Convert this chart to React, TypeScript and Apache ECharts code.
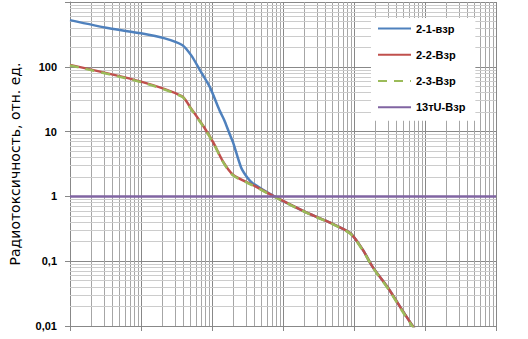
import React, { useEffect, useRef } from "react";
import * as echarts from "echarts";

// Time (arbitrary log scale, decades 1..1e6) and radiotoxicity values
const blueX = [1, 3.55, 10, 21.6, 38, 51, 67.6, 93, 127, 149, 175, 199, 257, 318, 374, 776, 2200, 4700, 8900, 13400, 18400, 31600, 47500, 65500, 76700];
const blueY = [525, 393, 329, 275, 217, 150, 89, 49, 21.5, 15, 9.5, 6.7, 2.8, 1.92, 1.6, 0.98, 0.555, 0.39, 0.27, 0.148, 0.081, 0.036, 0.0177, 0.0104, 0.008];
const redX = [1, 10, 38, 49, 77, 105, 144, 199, 374, 776, 2200, 4700, 8900, 13400, 18400, 31600, 47500, 65500, 76700];
const redY = [107, 59, 35, 24, 11.8, 6.7, 3.4, 2.14, 1.5, 0.98, 0.555, 0.39, 0.27, 0.148, 0.081, 0.036, 0.0177, 0.0104, 0.008];
const greenX = redX;
const greenY = [105, 58, 34.5, 23.5, 11.6, 6.6, 3.35, 2.1, 1.48, 0.97, 0.55, 0.385, 0.265, 0.145, 0.08, 0.035, 0.0172, 0.0101, 0.0078];
const purpleX = [1, 1000000];
const purpleY = [1, 1];

const seriesNames = ["2-1-взр", "2-2-Взр", "2-3-Взр", "13тU-Взр"];
const xDecades = [1, 10, 100, 1000, 10000, 100000];
const yDecades = [0.01, 0.1, 1, 10, 100];
const minorMult = [2, 3, 4, 5, 6, 7, 8, 9];
const yTitle = "Радиотоксичность, отн. ед.";

const zip = (xs: number[], ys: number[]) => xs.map((x, i) => [x, ys[i]]);

export default function App() {
  const ref = useRef<HTMLDivElement>(null);
  useEffect(() => {
    if (!ref.current) return;
    const chart = echarts.init(ref.current, null, { renderer: "svg" });
    const vMinor: any[] = [];
    xDecades.forEach((d) => minorMult.forEach((m) => vMinor.push({ xAxis: d * m })));
    const hMinor: any[] = [];
    yDecades.forEach((d) => minorMult.forEach((m) => hMinor.push({ yAxis: d * m })));
    const fmt = (v: number) => {
      const n = Number(v.toPrecision(6));
      if (n >= 1000) return "";
      return String(n).replace(".", ",");
    };
    chart.setOption({
      animation: false,
      grid: { left: 60, right: 32, top: 2, bottom: 13 },
      legend: {
        orient: "vertical",
        left: 371,
        top: 18,
        padding: [5, 10, 8, 6],
        backgroundColor: "#ffffff",
        itemWidth: 33,
        itemHeight: 14,
        itemGap: 15,
        data: seriesNames,
        itemStyle: { opacity: 0 },
        textStyle: { fontFamily: "Liberation Sans", fontWeight: "bold", fontSize: 11, color: "#000" },
      },
      xAxis: {
        type: "log",
        min: 1,
        max: 1000000,
        splitNumber: 6,
        axisLine: { show: true, lineStyle: { color: "#888", width: 1 } },
        axisTick: { show: true, length: 5, lineStyle: { color: "#888" } },
        axisLabel: { show: false },
        splitLine: { show: true, lineStyle: { color: "#888", width: 1 } },
      },
      yAxis: {
        type: "log",
        min: 0.01,
        max: 1000,
        splitNumber: 5,
        name: yTitle,
        nameLocation: "middle",
        nameGap: 48,
        nameTextStyle: { fontFamily: "DejaVu Sans", fontSize: 14, color: "#000" },
        axisLine: { show: true, lineStyle: { color: "#888", width: 1 } },
        axisTick: { show: true, length: 5, lineStyle: { color: "#888" } },
        axisLabel: {
          formatter: fmt,
          fontFamily: "Liberation Sans",
          fontWeight: "bold",
          fontSize: 11,
          color: "#000",
          margin: 13,
        },
        splitLine: { show: true, lineStyle: { color: "#888", width: 1 } },
      },
      series: [
        {
          type: "line",
          name: "grid",
          data: [[1, 1]],
          symbol: "none",
          lineStyle: { opacity: 0 },
          silent: true,
          z: 1,
          markLine: {
            silent: true,
            z: 1,
            symbol: ["none", "none"],
            label: { show: false },
            animation: false,
            data: [
              ...vMinor.map((d) => ({ ...d, lineStyle: { color: "#a6a6a6", width: 1, type: "solid" } })),
              ...hMinor.map((d) => ({ ...d, lineStyle: { color: "#cccccc", width: 1, type: "solid" } })),
            ],
          },
        },
        {
          type: "line",
          name: seriesNames[0],
          data: zip(blueX, blueY),
          symbol: "none",
          smooth: 0.25,
          lineStyle: { color: "#4f81bd", width: 2.5 },
          itemStyle: { color: "#4f81bd" },
          z: 3,
        },
        {
          type: "line",
          name: seriesNames[1],
          data: zip(redX, redY),
          symbol: "none",
          smooth: 0.25,
          lineStyle: { color: "#c0504d", width: 2.5 },
          itemStyle: { color: "#c0504d" },
          z: 3,
        },
        {
          type: "line",
          name: seriesNames[2],
          data: zip(greenX, greenY),
          symbol: "none",
          smooth: 0.25,
          lineStyle: { color: "#9bbb59", width: 2.5, type: [9, 7] },
          itemStyle: { color: "#9bbb59" },
          z: 3,
        },
        {
          type: "line",
          name: seriesNames[3],
          data: zip(purpleX, purpleY),
          symbol: "none",
          lineStyle: { color: "#8064a2", width: 2.5 },
          itemStyle: { color: "#8064a2" },
          z: 3,
        },
      ],
    });
    return () => chart.dispose();
  }, []);
  return <div ref={ref} style={{ position: "absolute", left: 0, top: 0, width: 528, height: 339 }} />;
}
